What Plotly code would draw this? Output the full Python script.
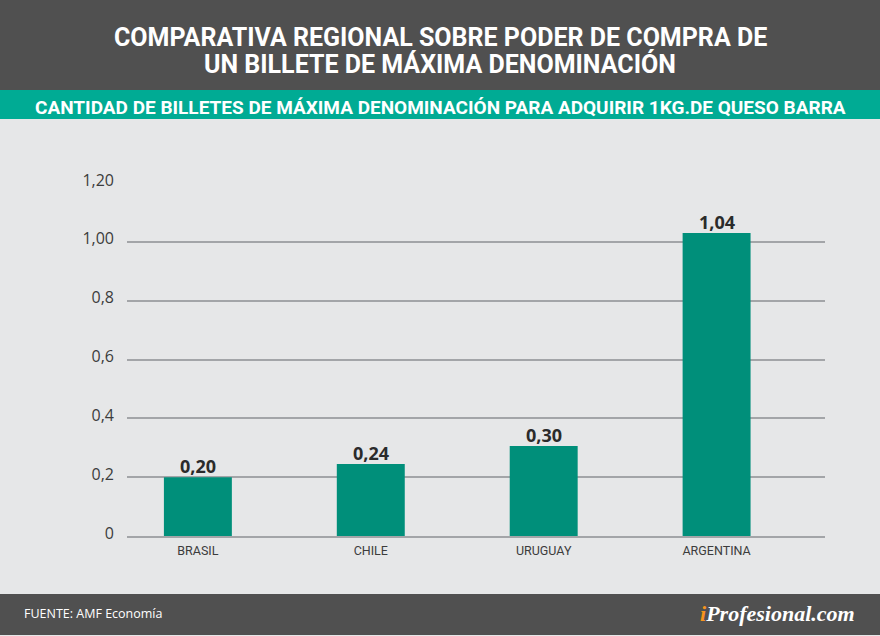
import plotly.graph_objects as go

# datos
paises = ['BRASIL', 'CHILE', 'URUGUAY', 'ARGENTINA']
altura_barras = [0.20, 0.245, 0.306, 1.03]
etiquetas = ['0,20', '0,24', '0,30', '1,04']
y_ticks = [0, 0.2, 0.4, 0.6, 0.8, 1.0, 1.2]
y_labels = ['0', '0,2', '0,4', '0,6', '0,8', '1,00', '1,20']

titulo_1 = 'COMPARATIVA REGIONAL SOBRE PODER DE COMPRA DE'
titulo_2 = 'UN BILLETE DE MÁXIMA DENOMINACIÓN'
subtitulo = 'CANTIDAD DE BILLETES DE MÁXIMA DENOMINACIÓN PARA ADQUIRIR 1KG.DE QUESO BARRA'
fuente = 'FUENTE: AMF Economía'

GRIS = '#505050'
VERDE = '#00ab94'
VERDE_BARRA = '#008f7a'
FONDO = '#e6e7e8'
LINEA = '#a3a5a8'
TEXTO = '#3c3c3c'

W, H = 880, 636
M_L, M_R, M_T, M_B = 127, 55, 183, 100
PLOT_W = W - M_L - M_R
PLOT_H = H - M_T - M_B


# pasa pixeles de la imagen a coordenadas paper
def px_x(px):
    return (px - M_L) / PLOT_W


def px_y(py):
    return (H - M_B - py) / PLOT_H


fig = go.Figure(go.Bar(
    x=paises,
    y=altura_barras,
    marker=dict(color=VERDE_BARRA, line_width=0),
))

fig.update_layout(
    width=W,
    height=H,
    margin=dict(l=M_L, r=M_R, t=M_T, b=M_B),
    paper_bgcolor=FONDO,
    plot_bgcolor=FONDO,
    showlegend=False,
    bargap=0.607,
)

fig.update_xaxes(
    range=[-0.41, 3.627],
    showgrid=False,
    showline=True,
    linecolor=LINEA,
    linewidth=2,
    ticks='',
    ticklabelstandoff=2,
    tickfont=dict(family='Roboto', size=12.5, color=TEXTO),
)
fig.update_yaxes(
    range=[0, 1.2],
    tickvals=y_ticks,
    ticktext=y_labels,
    showgrid=True,
    gridcolor=LINEA,
    gridwidth=2,
    zeroline=False,
    ticks='',
    ticklabelstandoff=12,
    ticklabelshift=-3,
    tickfont=dict(family='Open Sans', size=16, color=TEXTO),
)

# franjas de encabezado y pie
for y0, y1, color in [(0, 90, GRIS), (90, 119, VERDE), (594, 635, GRIS)]:
    fig.add_shape(type='rect', xref='paper', yref='paper', x0=px_x(0), x1=px_x(W),
                  y0=px_y(y1), y1=px_y(y0), fillcolor=color, line_width=0, layer='below')

# valores sobre las barras
for pais, alto, etiqueta in zip(paises, altura_barras, etiquetas):
    fig.add_annotation(x=pais, y=alto, text=etiqueta, showarrow=False, yanchor='bottom', yshift=-3,
                       font=dict(family='Open Sans', size=18, color='#2b2b2b', weight=700))

fig.add_annotation(text=titulo_1, xref='paper', yref='paper', x=px_x(440), y=px_y(37),
                   showarrow=False, xanchor='center', yanchor='middle',
                   font=dict(family='Roboto', size=25, color='white', weight=700))
fig.add_annotation(text=titulo_2, xref='paper', yref='paper', x=px_x(440), y=px_y(64),
                   showarrow=False, xanchor='center', yanchor='middle',
                   font=dict(family='Roboto', size=25, color='white', weight=700))
fig.add_annotation(text=subtitulo, xref='paper', yref='paper', x=px_x(440), y=px_y(108),
                   showarrow=False, xanchor='center', yanchor='middle',
                   font=dict(family='Roboto', size=19, color='white', weight=700))
fig.add_annotation(text=fuente, xref='paper', yref='paper', x=px_x(22), y=px_y(613),
                   showarrow=False, xanchor='left', yanchor='middle',
                   font=dict(family='Open Sans', size=12.5, color='white'))
fig.add_annotation(text='<i><b><span style="color:#f7941d">i</span>Profesional.com</b></i>',
                   xref='paper', yref='paper', x=px_x(857), y=px_y(613),
                   showarrow=False, xanchor='right', yanchor='middle',
                   font=dict(family='Liberation Serif', size=22, color='white'))

# sin margen del body para que el grafico llene la ventana
fig.write_html("out.html", config={'displayModeBar': False},
               post_script="document.body.style.margin='0';")
